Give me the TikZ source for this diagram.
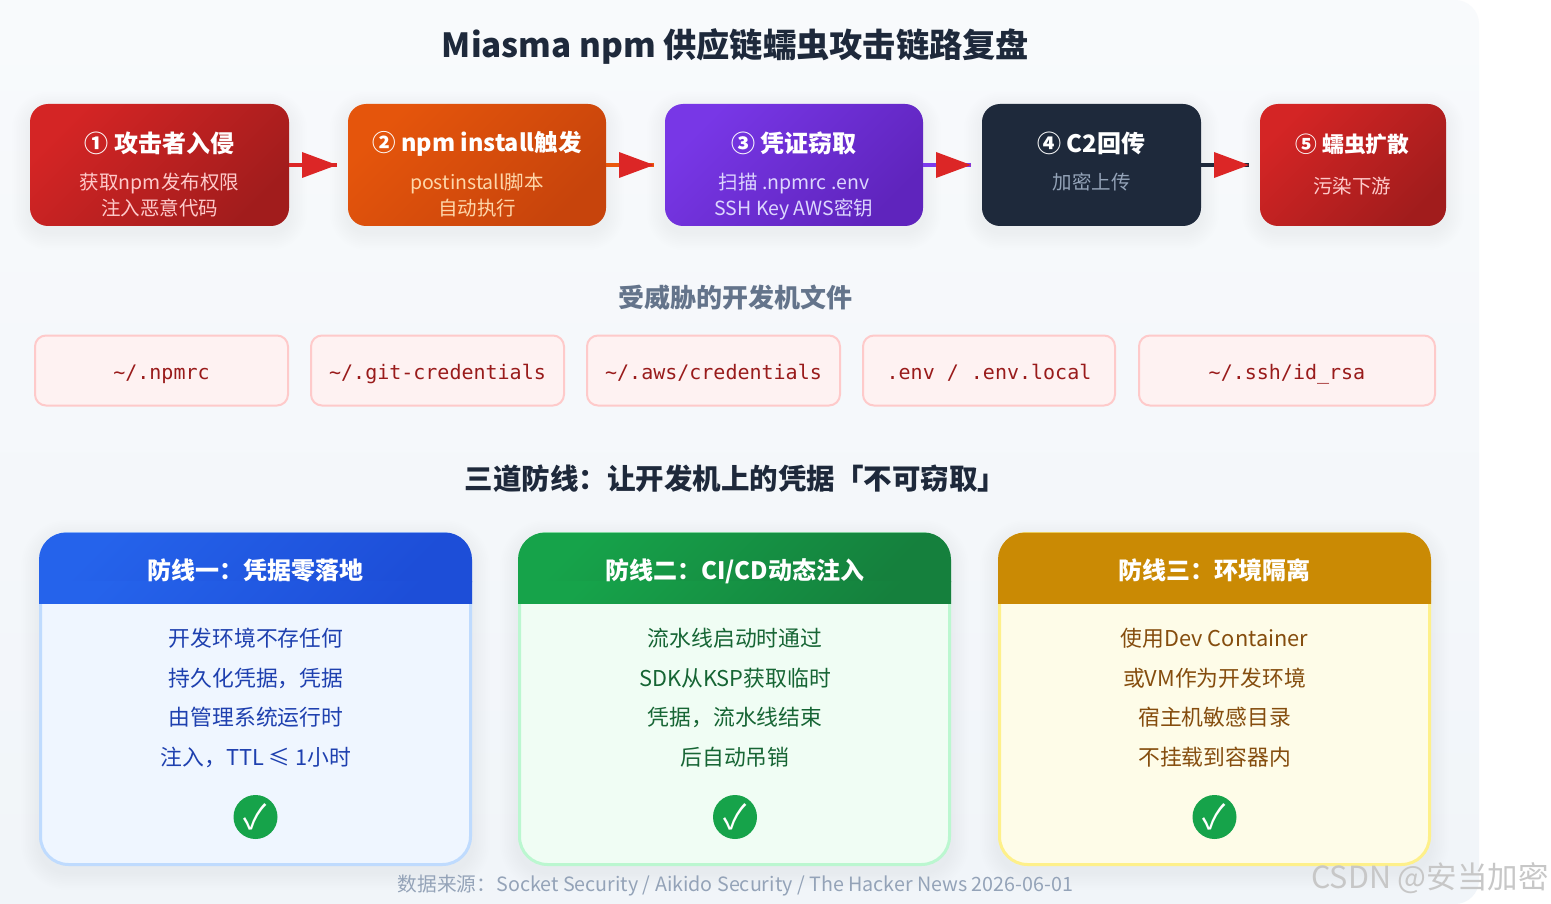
\documentclass[tikz,border=0pt]{standalone}
\usepackage{fontspec}
\usetikzlibrary{arrows.meta,calc}
\setmainfont{Noto Sans CJK SC}
\newfontfamily\codefont{DejaVu Sans Mono}
\definecolor{pA}{HTML}{F8FAFC}\definecolor{pB}{HTML}{F1F5F9}
\definecolor{redA}{HTML}{DC2626}\definecolor{redB}{HTML}{991B1B}
\definecolor{orA}{HTML}{EA580C}\definecolor{orB}{HTML}{C2410C}
\definecolor{puA}{HTML}{7C3AED}\definecolor{puB}{HTML}{5B21B6}
\definecolor{dk}{HTML}{1E293B}
\definecolor{subR}{HTML}{FECACA}\definecolor{subO}{HTML}{FED7AA}
\definecolor{subP}{HTML}{DDD6FE}\definecolor{subD}{HTML}{94A3B8}
\definecolor{slate}{HTML}{64748B}
\definecolor{blA}{HTML}{2563EB}\definecolor{blB}{HTML}{1D4ED8}
\definecolor{grA}{HTML}{16A34A}\definecolor{grB}{HTML}{15803D}
\definecolor{yl}{HTML}{CA8A04}
\definecolor{blBd}{HTML}{BFDBFE}\definecolor{grBd}{HTML}{BBF7D0}\definecolor{ylBd}{HTML}{FEF08A}
\definecolor{blF}{HTML}{EFF6FF}\definecolor{grF}{HTML}{F0FDF4}\definecolor{ylF}{HTML}{FEFCE8}
\definecolor{blT}{HTML}{1E40AF}\definecolor{grT}{HTML}{166534}\definecolor{ylT}{HTML}{854D0E}
\definecolor{fileF}{HTML}{FEF2F2}\definecolor{fileT}{HTML}{991B1B}
\tikzset{
  lbl/.style={inner sep=0pt,outer sep=0pt,text height=#1*0.88pt,text depth=#1*0.12pt,
    font=\fontsize{#1}{#1}\selectfont},
  boldlbl/.style={lbl=#1,font=\fontsize{#1}{#1}\selectfont\bfseries},
  boxbase/.style={inner sep=0pt,outer sep=0pt,rounded corners=#1},
  flowtitle/.style={boldlbl=24,text=white},
  flowsub/.style={lbl=19.5,text=#1},
  headtext/.style={boldlbl=24,text=white},
  bodytext/.style={lbl=21.8,text=#1},
  wire/.style={line width=4pt},
  headtip/.style={draw=redA,fill=redA,line width=0pt,-{Triangle[length=35pt,width=26pt,fill=redA]}},
  filetext/.style={inner sep=0pt,outer sep=0pt,yshift=-5pt,text=fileT,font=\codefont\fontsize{20}{20}\selectfont},
}
% soft shadow
\newcommand{\softshade}[6]{% x1 y1 x2 y2 r opacity
  \foreach \k in {1,...,10}{
    \fill[black,opacity=#6,rounded corners={(#5+1.8*\k)*1pt}]
      ({#1-1.8*\k},{#2-1.8*\k+6}) rectangle ({#3+1.8*\k},{#4+1.8*\k+6});
  }}
\newcommand{\flowbox}[5]{% name x1 x2 colA colB
  \softshade{#2}{104}{#3}{226}{18}{0.004}
  \node[boxbase=18pt,shade,top color=#4!88!#5,bottom color=#5!88!#4,shading angle=45,
    minimum width={(#3-#2)*1pt},minimum height=122pt] (#1) at ({(#2+#3)/2},165) {};
}
\newcommand{\filebox}[3]{% name x1 x2
  \node[boxbase=11pt,draw=subR,line width=2pt,fill=fileF,
    minimum width={(#3-#2-2)*1pt},minimum height=70pt] (#1) at ({(#2+#3)/2},370.5) {};
}
\newcommand{\link}[3]{% from, tip coordinate name, colour
  \draw[wire,draw=#3] (#1.east) -- (#2);
  \draw[headtip] ($(#2)+(-35,0)$) -- (#2);
}
\newcommand{\card}[7]{% name x1 x2 colA colB border fill
  \softshade{#2}{532}{#3}{866}{28}{0.004}
  \node[boxbase=28pt,draw=#6,line width=3pt,fill=#7,
    minimum width={(#3-#2-3)*1pt},minimum height=331pt] (#1) at ({(#2+#3)/2},699) {};
  \shade[top color=#4,bottom color=#5,shading angle=45]
    (#2,582) [rounded corners=27pt] -- (#2,532.5) -- (#3,532.5) [sharp corners] -- (#3,582) -- cycle;
  \shade[top color=#4,bottom color=#5,shading angle=45]
    (#2,581) rectangle (#3,603);
}
\begin{document}
\begin{tikzpicture}[x=1pt,y=-1pt]
\useasboundingbox (0,0) rectangle (1551,904);
\fill[white] (0,0) rectangle (1551,904);
\shade[top color=pA,bottom color=pB]
  (0,0) [rounded corners=24pt] -- (1479,0) -- (1479,904) [sharp corners] -- (0,904) -- cycle;

\node[boldlbl=33.25,text=dk] (title) at (735.5,44.5) {Miasma npm 供应链蠕虫攻击链路复盘};

% flow
\flowbox{n1}{30}{289}{redA}{redB}
\flowbox{n2}{348}{606}{orA}{orB}
\flowbox{n3}{665}{923}{puA}{puB}
\flowbox{n4}{982}{1201}{dk}{dk}
\flowbox{n5}{1260}{1446}{redA}{redB}

\coordinate (t1) at (337,165);
\coordinate (t2) at (654,165);
\coordinate (t3) at (971,165);
\coordinate (t4) at (1249,165);
\link{n1}{t1}{redA}
\link{n2}{t2}{orA}
\link{n3}{t3}{puA}
\link{n4}{t4}{dk}

\node[flowtitle] (n1a) at (159.5,143) {① 攻击者入侵};
\node[flowsub=subR] (n1b) at (159.5,182) {获取npm发布权限};
\node[flowsub=subR] (n1c) at (159.5,208) {注入恶意代码};
\node[boldlbl=23.5,text=white] (n2a) at (477,143) {② npm install触发};
\node[flowsub=subO] (n2b) at (477,182) {postinstall脚本};
\node[flowsub=subO] (n2c) at (477,208) {自动执行};
\node[flowtitle] (n3a) at (794,143) {③ 凭证窃取};
\node[flowsub=subP] (n3b) at (794,182) {扫描 .npmrc .env};
\node[flowsub=subP] (n3c) at (794,208) {SSH Key AWS密钥};
\node[flowtitle] (n4a) at (1091.5,143) {④ C2回传};
\node[flowsub=subD] (n4b) at (1091.5,182) {加密上传};
\node[boldlbl=21.7,text=white] (n5a) at (1352.5,144) {⑤ 蠕虫扩散};
\node[flowsub=subR] (n5b) at (1352,186) {污染下游};

% files
\node[boldlbl=26,text=slate] (filesT) at (735,297.5) {受威胁的开发机文件};
\filebox{f1}{34}{289}
\filebox{f2}{310}{565}
\filebox{f3}{586}{841}
\filebox{f4}{862}{1116}
\filebox{f5}{1138}{1436}
\node[filetext] (f1t) at (f1) {\strut\smash{\textasciitilde/.npmrc}};
\node[filetext] (f2t) at (f2) {\strut\smash{\textasciitilde/.git-credentials}};
\node[filetext] (f3t) at (f3) {\strut\smash{\textasciitilde/.aws/credentials}};
\node[filetext] (f4t) at (f4) {\strut\smash{.env / .env.local}};
\node[filetext] (f5t) at (f5) {\strut\smash{\textasciitilde/.ssh/id\_rsa}};

% defence
\node[boldlbl=28.5,text=dk] (defT) at (735.5,479) {三道防线：让开发机上的凭据「不可窃取」};

\card{c1}{39}{472}{blA}{blB}{blBd}{blF}
\card{c2}{518}{951}{grA}{grB}{grBd}{grF}
\card{c3}{998}{1431}{yl}{yl}{ylBd}{ylF}

\node[headtext] (c1h) at (255.5,570) {防线一：凭据零落地};
\node[headtext] (c2h) at (735,570) {防线二：CI/CD动态注入};
\node[headtext] (c3h) at (1214.5,570) {防线三：环境隔离};

\node[bodytext=blT] (c1a) at (256,638) {开发环境不存任何};
\node[bodytext=blT] (c1b) at (256,678) {持久化凭据，凭据};
\node[bodytext=blT] (c1c) at (256,717) {由管理系统运行时};
\node[bodytext=blT] (c1d) at (256,757) {注入，TTL ≤ 1小时};
\node[bodytext=grT] (c2a) at (735,638) {流水线启动时通过};
\node[bodytext=grT] (c2b) at (735,678) {SDK从KSP获取临时};
\node[bodytext=grT] (c2c) at (735,717) {凭据，流水线结束};
\node[bodytext=grT] (c2d) at (735,757) {后自动吊销};
\node[bodytext=ylT] (c3a) at (1214.5,638) {使用Dev Container};
\node[bodytext=ylT] (c3b) at (1214.5,678) {或VM作为开发环境};
\node[bodytext=ylT] (c3c) at (1214.5,717) {宿主机敏感目录};
\node[bodytext=ylT] (c3d) at (1214.5,757) {不挂载到容器内};

\foreach \nm/\cx in {k1/255.5,k2/735,k3/1214.5}{
  \node[circle,fill=grA,minimum size=44pt,inner sep=0pt,text=white,
    font=\fontsize{34}{34}\selectfont] (\nm) at (\cx,817) {✓};
}

\node[lbl=19.7,text=subD] (src) at (735.5,884) {数据来源：Socket Security / Aikido Security / The Hacker News 2026-06-01};
\node[lbl=30.5,text=black!22] (wm) at (1430,877) {CSDN @安当加密};
\end{tikzpicture}
\end{document}
